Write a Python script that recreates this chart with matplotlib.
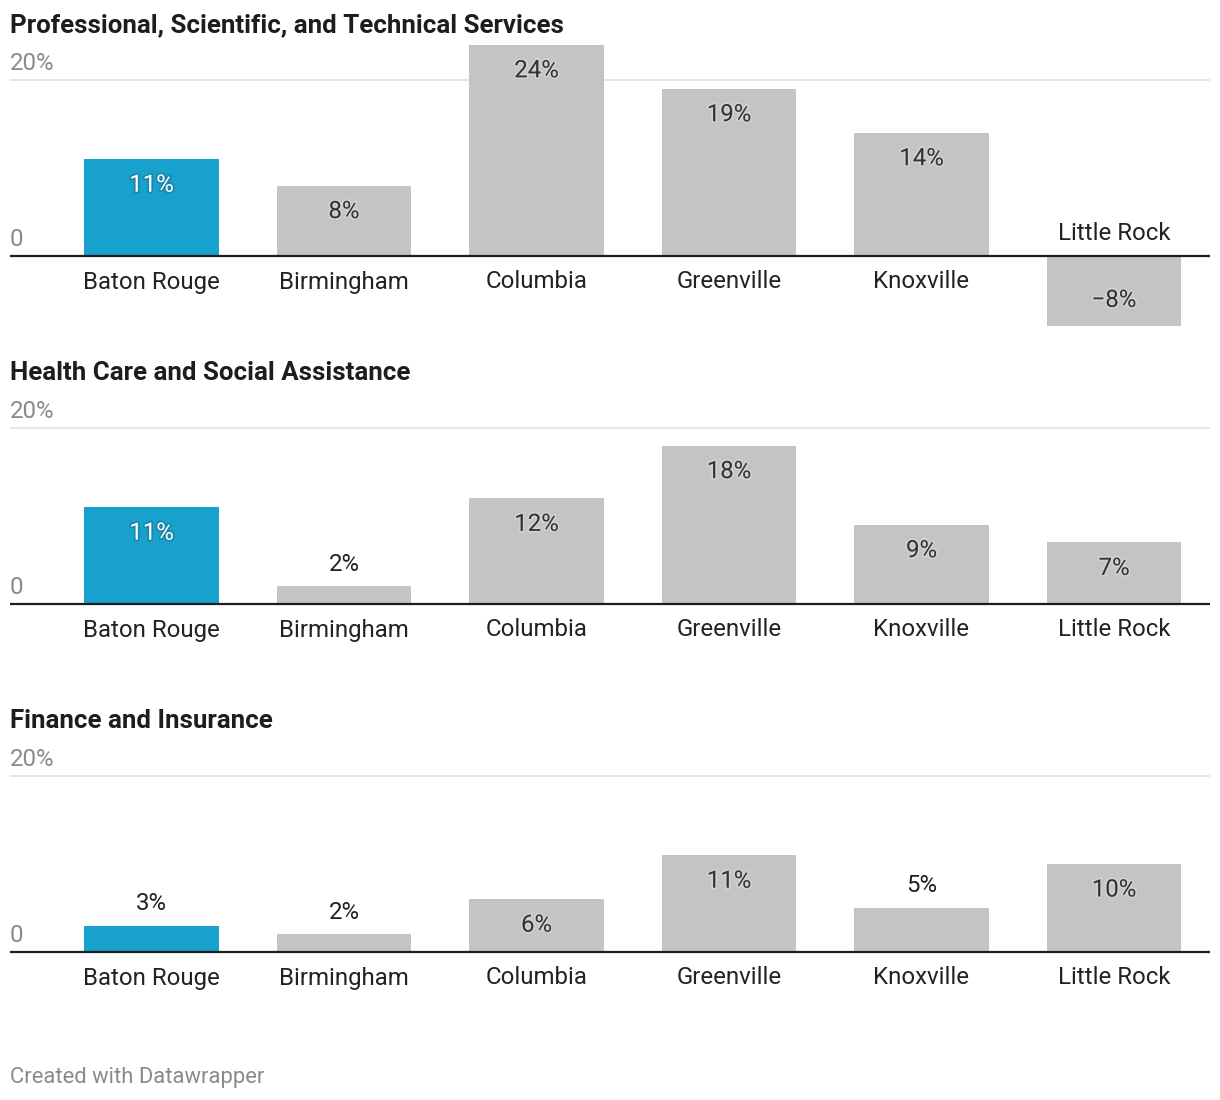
import matplotlib
matplotlib.use("Agg")
import matplotlib.pyplot as plt
import matplotlib.patheffects as pe
from matplotlib.transforms import blended_transform_factory

plt.rcParams['font.family'] = ['Roboto', 'DejaVu Sans']

cities = ["Baton Rouge", "Birmingham", "Columbia", "Greenville", "Knoxville", "Little Rock"]
titles = ["Professional, Scientific, and Technical Services",
          "Health Care and Social Assistance",
          "Finance and Insurance"]
prof_sci_tech = [11, 8, 24, 19, 14, -8]
health_care = [11, 2, 12, 18, 9, 7]
finance_ins = [3, 2, 6, 11, 5, 10]
series = [prof_sci_tech, health_care, finance_ins]
tick_labels = ["0", "20%"]
tick_values = [0, 20]
highlight = "Baton Rouge"

W, H = 1220, 1100
DPI = 100
fig = plt.figure(figsize=(W / DPI, H / DPI), dpi=DPI)
fig.patch.set_facecolor("white")

BLUE = "#18a1cd"
GRAY = "#c4c4c4"
PX_PER_UNIT = 8.8
baselines = [256, 604, 952]
title_y = [25, 373, 721]
x_left_px, x_right_px = 10, 1210
band = 192.5
first_center = 151.5
xmin = -(first_center - x_left_px) / band
xmax = len(cities) - 1 + (x_right_px - (first_center + band * (len(cities) - 1))) / band

for idx, (vals, title, B) in enumerate(zip(series, titles, baselines)):
    top_px = B - 220
    bot_px = B + 80
    ax = fig.add_axes([x_left_px / W, 1 - bot_px / H, (x_right_px - x_left_px) / W, (bot_px - top_px) / H])
    ax.set_xlim(xmin, xmax)
    ax.set_ylim(-(bot_px - B) / PX_PER_UNIT, (B - top_px) / PX_PER_UNIT)
    ax.axis("off")
    ax.patch.set_alpha(0)

    ax.axhline(20, color="#e3e3e3", lw=1.3, zorder=0)
    xs = list(range(len(cities)))
    colors = [BLUE if c == highlight else GRAY for c in cities]
    ax.bar(xs, vals, width=0.70, color=colors, zorder=1)
    ax.axhline(0, color="#1d1d1d", lw=1.6, zorder=3)

    trans = blended_transform_factory(fig.transFigure, ax.transData)
    for tv, tl in zip(tick_values, tick_labels):
        ax.annotate(tl, xy=(x_left_px / W, tv), xycoords=trans, xytext=(0, 5),
                    textcoords="offset pixels", ha="left", va="bottom",
                    fontsize=17.3, color="#8a8a8a")

    for x, v, c in zip(xs, vals, cities):
        hpx = abs(v) * PX_PER_UNIT
        sign = 1 if v >= 0 else -1
        label = f"{v}%" if v >= 0 else f"\u2212{abs(v)}%"
        if hpx >= 50:
            off = -26 * sign
            if c == highlight:
                col, halo = "white", "#1a5f78"
            else:
                col, halo = "#333333", "#e6e6e6"
            effects = [pe.withStroke(linewidth=2.5, foreground=halo, alpha=0.4)]
        else:
            off = 22 * sign
            col = "#222222"
            effects = None
        t = ax.annotate(label, xy=(x, v), xytext=(0, off), textcoords="offset pixels",
                        ha="center", va="center", fontsize=17.3, color=col, zorder=4)
        if effects:
            t.set_path_effects(effects)
        cat_off = -26 if v >= 0 else 22
        ax.annotate(c, xy=(x, 0), xytext=(0, cat_off), textcoords="offset pixels",
                    ha="center", va="center", fontsize=17.3, color="#222222", zorder=4)

    fig.text(x_left_px / W, 1 - title_y[idx] / H, title, ha="left", va="center",
             fontsize=18.6, fontweight="bold", color="#1d1d1d")

fig.text(x_left_px / W, 1 - 1077 / H, "Created with Datawrapper", ha="left", va="center",
         fontsize=15.8, color="#8a8a8a")

fig.savefig("out.png", dpi=DPI, facecolor="white")
